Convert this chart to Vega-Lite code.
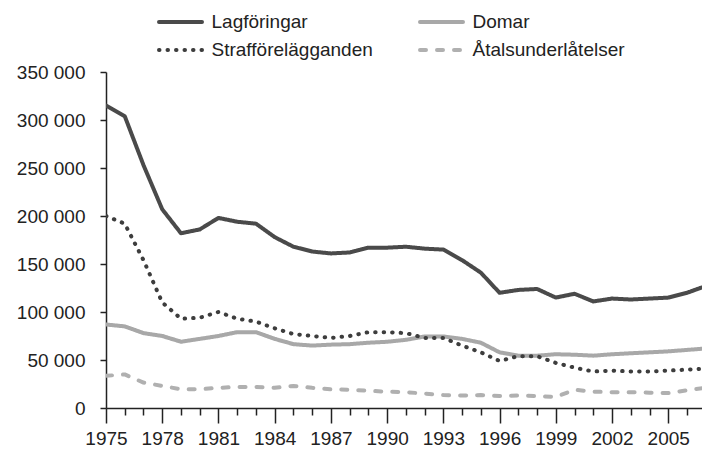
{
  "$schema": "https://vega.github.io/schema/vega-lite/v6.json",
  "width": 596,
  "height": 336,
  "autosize": {"type": "none"},
  "padding": {"left": 106, "top": 72, "right": 0, "bottom": 42},
  "background": "white",
  "data": {"values": [
    {"year":1975,"series":"Lagföringar","value":315000},{"year":1976,"series":"Lagföringar","value":304000},{"year":1977,"series":"Lagföringar","value":253000},{"year":1978,"series":"Lagföringar","value":207000},{"year":1979,"series":"Lagföringar","value":182000},{"year":1980,"series":"Lagföringar","value":186000},{"year":1981,"series":"Lagföringar","value":198000},{"year":1982,"series":"Lagföringar","value":194000},{"year":1983,"series":"Lagföringar","value":192000},{"year":1984,"series":"Lagföringar","value":178000},{"year":1985,"series":"Lagföringar","value":168000},{"year":1986,"series":"Lagföringar","value":163000},{"year":1987,"series":"Lagföringar","value":161000},{"year":1988,"series":"Lagföringar","value":162000},{"year":1989,"series":"Lagföringar","value":167000},{"year":1990,"series":"Lagföringar","value":167000},{"year":1991,"series":"Lagföringar","value":168000},{"year":1992,"series":"Lagföringar","value":166000},{"year":1993,"series":"Lagföringar","value":165000},{"year":1994,"series":"Lagföringar","value":154000},{"year":1995,"series":"Lagföringar","value":141000},{"year":1996,"series":"Lagföringar","value":120000},{"year":1997,"series":"Lagföringar","value":123000},{"year":1998,"series":"Lagföringar","value":124000},{"year":1999,"series":"Lagföringar","value":115000},{"year":2000,"series":"Lagföringar","value":119000},{"year":2001,"series":"Lagföringar","value":111000},{"year":2002,"series":"Lagföringar","value":114000},{"year":2003,"series":"Lagföringar","value":113000},{"year":2004,"series":"Lagföringar","value":114000},{"year":2005,"series":"Lagföringar","value":115000},{"year":2006,"series":"Lagföringar","value":120000},{"year":2007,"series":"Lagföringar","value":127000},
    {"year":1975,"series":"Domar","value":87000},{"year":1976,"series":"Domar","value":85000},{"year":1977,"series":"Domar","value":78000},{"year":1978,"series":"Domar","value":75000},{"year":1979,"series":"Domar","value":69000},{"year":1980,"series":"Domar","value":72000},{"year":1981,"series":"Domar","value":75000},{"year":1982,"series":"Domar","value":79000},{"year":1983,"series":"Domar","value":79000},{"year":1984,"series":"Domar","value":72000},{"year":1985,"series":"Domar","value":66500},{"year":1986,"series":"Domar","value":65000},{"year":1987,"series":"Domar","value":66000},{"year":1988,"series":"Domar","value":66500},{"year":1989,"series":"Domar","value":68000},{"year":1990,"series":"Domar","value":69000},{"year":1991,"series":"Domar","value":71000},{"year":1992,"series":"Domar","value":74500},{"year":1993,"series":"Domar","value":74500},{"year":1994,"series":"Domar","value":72000},{"year":1995,"series":"Domar","value":68000},{"year":1996,"series":"Domar","value":58000},{"year":1997,"series":"Domar","value":54500},{"year":1998,"series":"Domar","value":54500},{"year":1999,"series":"Domar","value":56000},{"year":2000,"series":"Domar","value":55500},{"year":2001,"series":"Domar","value":54500},{"year":2002,"series":"Domar","value":56000},{"year":2003,"series":"Domar","value":57000},{"year":2004,"series":"Domar","value":58000},{"year":2005,"series":"Domar","value":59000},{"year":2006,"series":"Domar","value":60500},{"year":2007,"series":"Domar","value":62000},
    {"year":1975,"series":"Strafförelägganden","value":200000},{"year":1976,"series":"Strafförelägganden","value":192000},{"year":1977,"series":"Strafförelägganden","value":154000},{"year":1978,"series":"Strafförelägganden","value":110000},{"year":1979,"series":"Strafförelägganden","value":93000},{"year":1980,"series":"Strafförelägganden","value":94000},{"year":1981,"series":"Strafförelägganden","value":100000},{"year":1982,"series":"Strafförelägganden","value":93000},{"year":1983,"series":"Strafförelägganden","value":90000},{"year":1984,"series":"Strafförelägganden","value":83000},{"year":1985,"series":"Strafförelägganden","value":77000},{"year":1986,"series":"Strafförelägganden","value":75000},{"year":1987,"series":"Strafförelägganden","value":73000},{"year":1988,"series":"Strafförelägganden","value":75000},{"year":1989,"series":"Strafförelägganden","value":79000},{"year":1990,"series":"Strafförelägganden","value":79000},{"year":1991,"series":"Strafförelägganden","value":78000},{"year":1992,"series":"Strafförelägganden","value":73000},{"year":1993,"series":"Strafförelägganden","value":73000},{"year":1994,"series":"Strafförelägganden","value":65000},{"year":1995,"series":"Strafförelägganden","value":58000},{"year":1996,"series":"Strafförelägganden","value":49000},{"year":1997,"series":"Strafförelägganden","value":54000},{"year":1998,"series":"Strafförelägganden","value":54000},{"year":1999,"series":"Strafförelägganden","value":47000},{"year":2000,"series":"Strafförelägganden","value":42000},{"year":2001,"series":"Strafförelägganden","value":38000},{"year":2002,"series":"Strafförelägganden","value":39000},{"year":2003,"series":"Strafförelägganden","value":38000},{"year":2004,"series":"Strafförelägganden","value":38000},{"year":2005,"series":"Strafförelägganden","value":39000},{"year":2006,"series":"Strafförelägganden","value":40000},{"year":2007,"series":"Strafförelägganden","value":41000},
    {"year":1975,"series":"Åtalsunderlåtelser","value":33500},{"year":1976,"series":"Åtalsunderlåtelser","value":35000},{"year":1977,"series":"Åtalsunderlåtelser","value":26500},{"year":1978,"series":"Åtalsunderlåtelser","value":23000},{"year":1979,"series":"Åtalsunderlåtelser","value":19500},{"year":1980,"series":"Åtalsunderlåtelser","value":19500},{"year":1981,"series":"Åtalsunderlåtelser","value":21000},{"year":1982,"series":"Åtalsunderlåtelser","value":22000},{"year":1983,"series":"Åtalsunderlåtelser","value":22000},{"year":1984,"series":"Åtalsunderlåtelser","value":21000},{"year":1985,"series":"Åtalsunderlåtelser","value":23000},{"year":1986,"series":"Åtalsunderlåtelser","value":21000},{"year":1987,"series":"Åtalsunderlåtelser","value":19500},{"year":1988,"series":"Åtalsunderlåtelser","value":19000},{"year":1989,"series":"Åtalsunderlåtelser","value":18000},{"year":1990,"series":"Åtalsunderlåtelser","value":17000},{"year":1991,"series":"Åtalsunderlåtelser","value":16500},{"year":1992,"series":"Åtalsunderlåtelser","value":15000},{"year":1993,"series":"Åtalsunderlåtelser","value":13500},{"year":1994,"series":"Åtalsunderlåtelser","value":13000},{"year":1995,"series":"Åtalsunderlåtelser","value":13500},{"year":1996,"series":"Åtalsunderlåtelser","value":12500},{"year":1997,"series":"Åtalsunderlåtelser","value":13000},{"year":1998,"series":"Åtalsunderlåtelser","value":12500},{"year":1999,"series":"Åtalsunderlåtelser","value":11500},{"year":2000,"series":"Åtalsunderlåtelser","value":19000},{"year":2001,"series":"Åtalsunderlåtelser","value":17000},{"year":2002,"series":"Åtalsunderlåtelser","value":16500},{"year":2003,"series":"Åtalsunderlåtelser","value":16500},{"year":2004,"series":"Åtalsunderlåtelser","value":16000},{"year":2005,"series":"Åtalsunderlåtelser","value":15500},{"year":2006,"series":"Åtalsunderlåtelser","value":18500},{"year":2007,"series":"Åtalsunderlåtelser","value":21000}
  ]},
  "mark": {"type": "line", "strokeWidth": 4, "strokeCap": "round", "strokeJoin": "round", "clip": true},
  "encoding": {
    "x": {
      "field": "year", "type": "quantitative",
      "scale": {"domain": [1975, 2006.8], "nice": false, "zero": false},
      "axis": {
        "title": null,
        "values": [1975,1976,1977,1978,1979,1980,1981,1982,1983,1984,1985,1986,1987,1988,1989,1990,1991,1992,1993,1994,1995,1996,1997,1998,1999,2000,2001,2002,2003,2004,2005,2006],
        "format": "d",
        "labelExpr": "(datum.value - 1975) % 3 == 0 ? datum.label : ''",
        "tickSize": {"condition": {"test": "(datum.value - 1975) % 3 == 0", "value": 15}, "value": 7},
        "tickColor": "#222", "tickWidth": 1.5,
        "domainColor": "#222", "domainWidth": 1.5,
        "labelFont": "Liberation Sans", "labelFontSize": 19, "labelColor": "#222",
        "labelPadding": 6, "labelOverlap": false, "labelFlush": false, "grid": false
      }
    },
    "y": {
      "field": "value", "type": "quantitative",
      "scale": {"domain": [0, 350000], "nice": false},
      "axis": {
        "title": null,
        "values": [0, 50000, 100000, 150000, 200000, 250000, 300000, 350000],
        "labelExpr": "replace(format(datum.value, ','), ',', ' ')",
        "tickSize": 6, "tickColor": "#222", "tickWidth": 1.5,
        "domainColor": "#222", "domainWidth": 1.5,
        "labelFont": "Liberation Sans", "labelFontSize": 19, "labelColor": "#222",
        "labelPadding": 15, "grid": false
      }
    },
    "color": {
      "field": "series", "type": "nominal",
      "scale": {"domain": ["Lagföringar", "Domar", "Strafförelägganden", "Åtalsunderlåtelser"], "range": ["#4a4a4a", "#a8a8a8", "#3d3d3d", "#b0b0b0"]},
      "legend": {
        "title": null, "orient": "none", "direction": "horizontal", "legendX": 62.5, "legendY": -62, "columns": 2,
        "symbolType": "M-2.15,0H2.15", "symbolSize": 400, "symbolStrokeWidth": 4,
        "labelFont": "Liberation Sans", "labelFontSize": 19, "labelColor": "#222",
        "labelOffset": 19, "columnPadding": 38, "rowPadding": 6, "padding": 0, "labelLimit": 400,
        "encode": {"symbols": {"update": {"strokeCap": {"value": "round"}, "fill": {"value": "transparent"}}}}
      }
    },
    "strokeDash": {
      "field": "series", "type": "nominal",
      "scale": {"domain": ["Lagföringar", "Domar", "Strafförelägganden", "Åtalsunderlåtelser"], "range": [[1, 0], [1, 0], [0.5, 8], [6, 11]]},
      "legend": {
        "title": null, "orient": "none", "direction": "horizontal", "legendX": 62.5, "legendY": -62, "columns": 2,
        "symbolType": "M-2.15,0H2.15", "symbolSize": 400, "symbolStrokeWidth": 4,
        "labelFont": "Liberation Sans", "labelFontSize": 19, "labelColor": "#222",
        "labelOffset": 19, "columnPadding": 38, "rowPadding": 6, "padding": 0, "labelLimit": 400,
        "encode": {"symbols": {"update": {"strokeCap": {"value": "round"}, "fill": {"value": "transparent"}}}}
      }
    }
  },
  "config": {"view": {"stroke": null}}
}
